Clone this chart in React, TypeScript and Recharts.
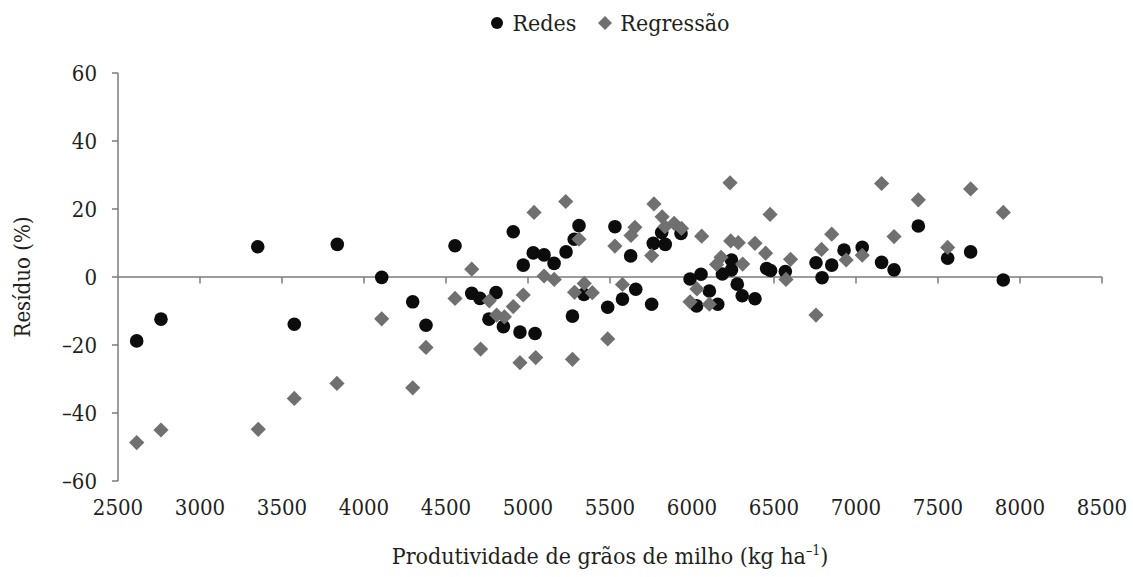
import { ScatterChart, Scatter, XAxis, YAxis, ReferenceLine } from "recharts";

const FONT = '"DejaVu Serif Condensed", "DejaVu Serif", "Liberation Serif", serif';
const TEXT_COLOR = "#231f20";
const AXIS_GRAY = "#7b7b7b";
const REDES_COLOR = "#0c0c0c";
const REG_COLOR = "#707070";

const X_TICKS = [2500, 3000, 3500, 4000, 4500, 5000, 5500, 6000, 6500, 7000, 7500, 8000, 8500];
const Y_TICKS = [-60, -40, -20, 0, 20, 40, 60];

// Redes (neural nets) residuals
const redesX = [
  2614, 2762, 3352, 3575, 3837, 4108, 4297, 4378, 4555, 4657, 4707, 4762, 4805, 4850, 4910, 4951,
  4971, 5032, 5043, 5098, 5159, 5232, 5271, 5282, 5311, 5341, 5486, 5530, 5576, 5626, 5657, 5754,
  5764, 5815, 5837, 5933, 5988, 6028, 6055, 6106, 6157, 6185, 6241, 6241, 6276, 6306, 6384, 6455,
  6479, 6569, 6756, 6793, 6852, 6927, 7038, 7156, 7232, 7380, 7559, 7699, 7898,
];
const redesY = [
  -18.8, -12.4, 8.9, -13.9, 9.6, -0.1, -7.3, -14.2, 9.2, -4.8, -6.3, -12.4, -4.6, -14.6, 13.3, -16.2,
  3.5, 7.1, -16.6, 6.5, 4.0, 7.4, -11.5, 11.1, 15.1, -5.1, -8.9, 14.8, -6.5, 6.2, -3.6, -8.0,
  9.9, 13.1, 9.6, 12.8, -0.6, -8.5, 0.8, -4.1, -8.0, 0.9, 5.0, 2.1, -2.1, -5.5, -6.4, 2.5,
  1.9, 1.6, 4.2, -0.2, 3.5, 7.9, 8.7, 4.3, 2.1, 15.0, 5.5, 7.4, -0.9,
];

// Regressão residuals
const regressaoX = [
  2614, 2762, 3355, 3575, 3835, 4108, 4297, 4378, 4555, 4657, 4711, 4764, 4809, 4856, 4910, 4951,
  4971, 5037, 5047, 5098, 5160, 5230, 5271, 5284, 5311, 5343, 5392, 5486, 5530, 5576, 5628, 5652,
  5754, 5768, 5818, 5835, 5891, 5936, 5988, 6030, 6059, 6106, 6150, 6177, 6232, 6236, 6282, 6309,
  6384, 6449, 6476, 6573, 6601, 6756, 6790, 6852, 6940, 7038, 7156, 7232, 7380, 7559, 7699, 7898,
];
const regressaoY = [
  -48.7, -45.0, -44.8, -35.7, -31.3, -12.3, -32.6, -20.7, -6.3, 2.3, -21.2, -7.0, -11.2, -11.7, -8.7, -25.2,
  -5.3, 19.0, -23.7, 0.3, -0.7, 22.2, -24.2, -4.5, 11.1, -1.9, -4.6, -18.2, 9.1, -2.2, 12.2, 14.6,
  6.3, 21.5, 17.7, 14.8, 15.8, 14.3, -7.3, -3.5, 12.0, -8.0, 3.7, 5.8, 27.7, 10.6, 10.1, 3.8,
  9.9, 7.0, 18.4, -0.7, 5.2, -11.2, 8.1, 12.6, 5.0, 6.4, 27.5, 11.9, 22.7, 8.7, 25.9, 19.0,
];

const redesData = redesX.map((x, i) => ({ x, y: redesY[i] }));
const regressaoData = regressaoX.map((x, i) => ({ x, y: regressaoY[i] }));

function CircleDot(props: any) {
  const { cx, cy } = props;
  return <circle cx={cx} cy={cy} r={6.8} fill={REDES_COLOR} />;
}

function DiamondDot(props: any) {
  const { cx, cy } = props;
  const s = 7.6;
  return (
    <polygon
      points={`${cx},${cy - s} ${cx + s},${cy} ${cx},${cy + s} ${cx - s},${cy}`}
      fill={REG_COLOR}
    />
  );
}

function YTitle(props: any) {
  const { x, y, height } = props.viewBox;
  const cx = x + 22;
  const cy = y + height / 2;
  return (
    <text
      x={cx}
      y={cy}
      transform={`rotate(-90, ${cx}, ${cy})`}
      textAnchor="middle"
      dominantBaseline="central"
      style={{ fontFamily: FONT, fontSize: 22 }}
      fill={TEXT_COLOR}
    >
      Resíduo (%)
    </text>
  );
}

function XTitle(props: any) {
  const { x, y, width } = props.viewBox;
  return (
    <text
      x={x + width / 2}
      y={y + 83}
      textAnchor="middle"
      style={{ fontFamily: FONT, fontSize: 23 }}
      fill={TEXT_COLOR}
    >
      Produtividade de grãos de milho (kg ha
      <tspan style={{ fontSize: 14 }} dy={-9}>–1</tspan>
      <tspan dy={9}>)</tspan>
    </text>
  );
}

const fmtY = (v: number) => (v < 0 ? `–${Math.abs(v)}` : `${v}`);

const tickStyle = { fill: TEXT_COLOR, fontSize: 22, fontFamily: FONT };

export default function App() {
  return (
    <div style={{ position: "absolute", left: 0, top: 0, width: 1133, height: 577, background: "#fff" }}>
      {/* legend */}
      <div
        style={{
          position: "absolute",
          left: 118,
          top: 10,
          width: 984,
          display: "flex",
          justifyContent: "center",
          alignItems: "center",
          gap: 8,
          fontFamily: FONT,
          fontSize: 23,
          color: TEXT_COLOR,
          zIndex: 2,
        }}
      >
        <svg width={14} height={14}>
          <circle cx={7} cy={7} r={6} fill={REDES_COLOR} />
        </svg>
        <span style={{ marginRight: 14 }}>Redes</span>
        <svg width={14} height={14}>
          <polygon points="7,0 14,7 7,14 0,7" fill={REG_COLOR} />
        </svg>
        <span>Regressão</span>
      </div>

      <ScatterChart width={1133} height={577} margin={{ top: 73, right: 31, bottom: 0, left: 0 }}>
        <XAxis
          type="number"
          dataKey="x"
          domain={[2500, 8500]}
          ticks={X_TICKS}
          interval={0}
          height={96}
          axisLine={false}
          tickLine={false}
          tickSize={0}
          tickMargin={18}
          tick={tickStyle}
          label={<XTitle />}
        />
        <YAxis
          type="number"
          dataKey="y"
          domain={[-60, 60]}
          ticks={Y_TICKS}
          interval={0}
          width={118}
          axisLine={{ stroke: AXIS_GRAY, strokeWidth: 1.5 }}
          tickLine={{ stroke: AXIS_GRAY, strokeWidth: 1.5 }}
          tickSize={6}
          tickMargin={15}
          tickFormatter={fmtY}
          tick={tickStyle}
          label={<YTitle />}
        />
        <ReferenceLine y={0} stroke={AXIS_GRAY} strokeWidth={1.5} />
        {X_TICKS.slice(1).map((t) => (
          <ReferenceLine
            key={t}
            segment={[
              { x: t, y: 0 },
              { x: t, y: -1.9 },
            ]}
            stroke={AXIS_GRAY}
            strokeWidth={1.5}
          />
        ))}
        <Scatter name="Redes" data={redesData} shape={<CircleDot />} isAnimationActive={false} />
        <Scatter name="Regressão" data={regressaoData} shape={<DiamondDot />} isAnimationActive={false} />
      </ScatterChart>
    </div>
  );
}
